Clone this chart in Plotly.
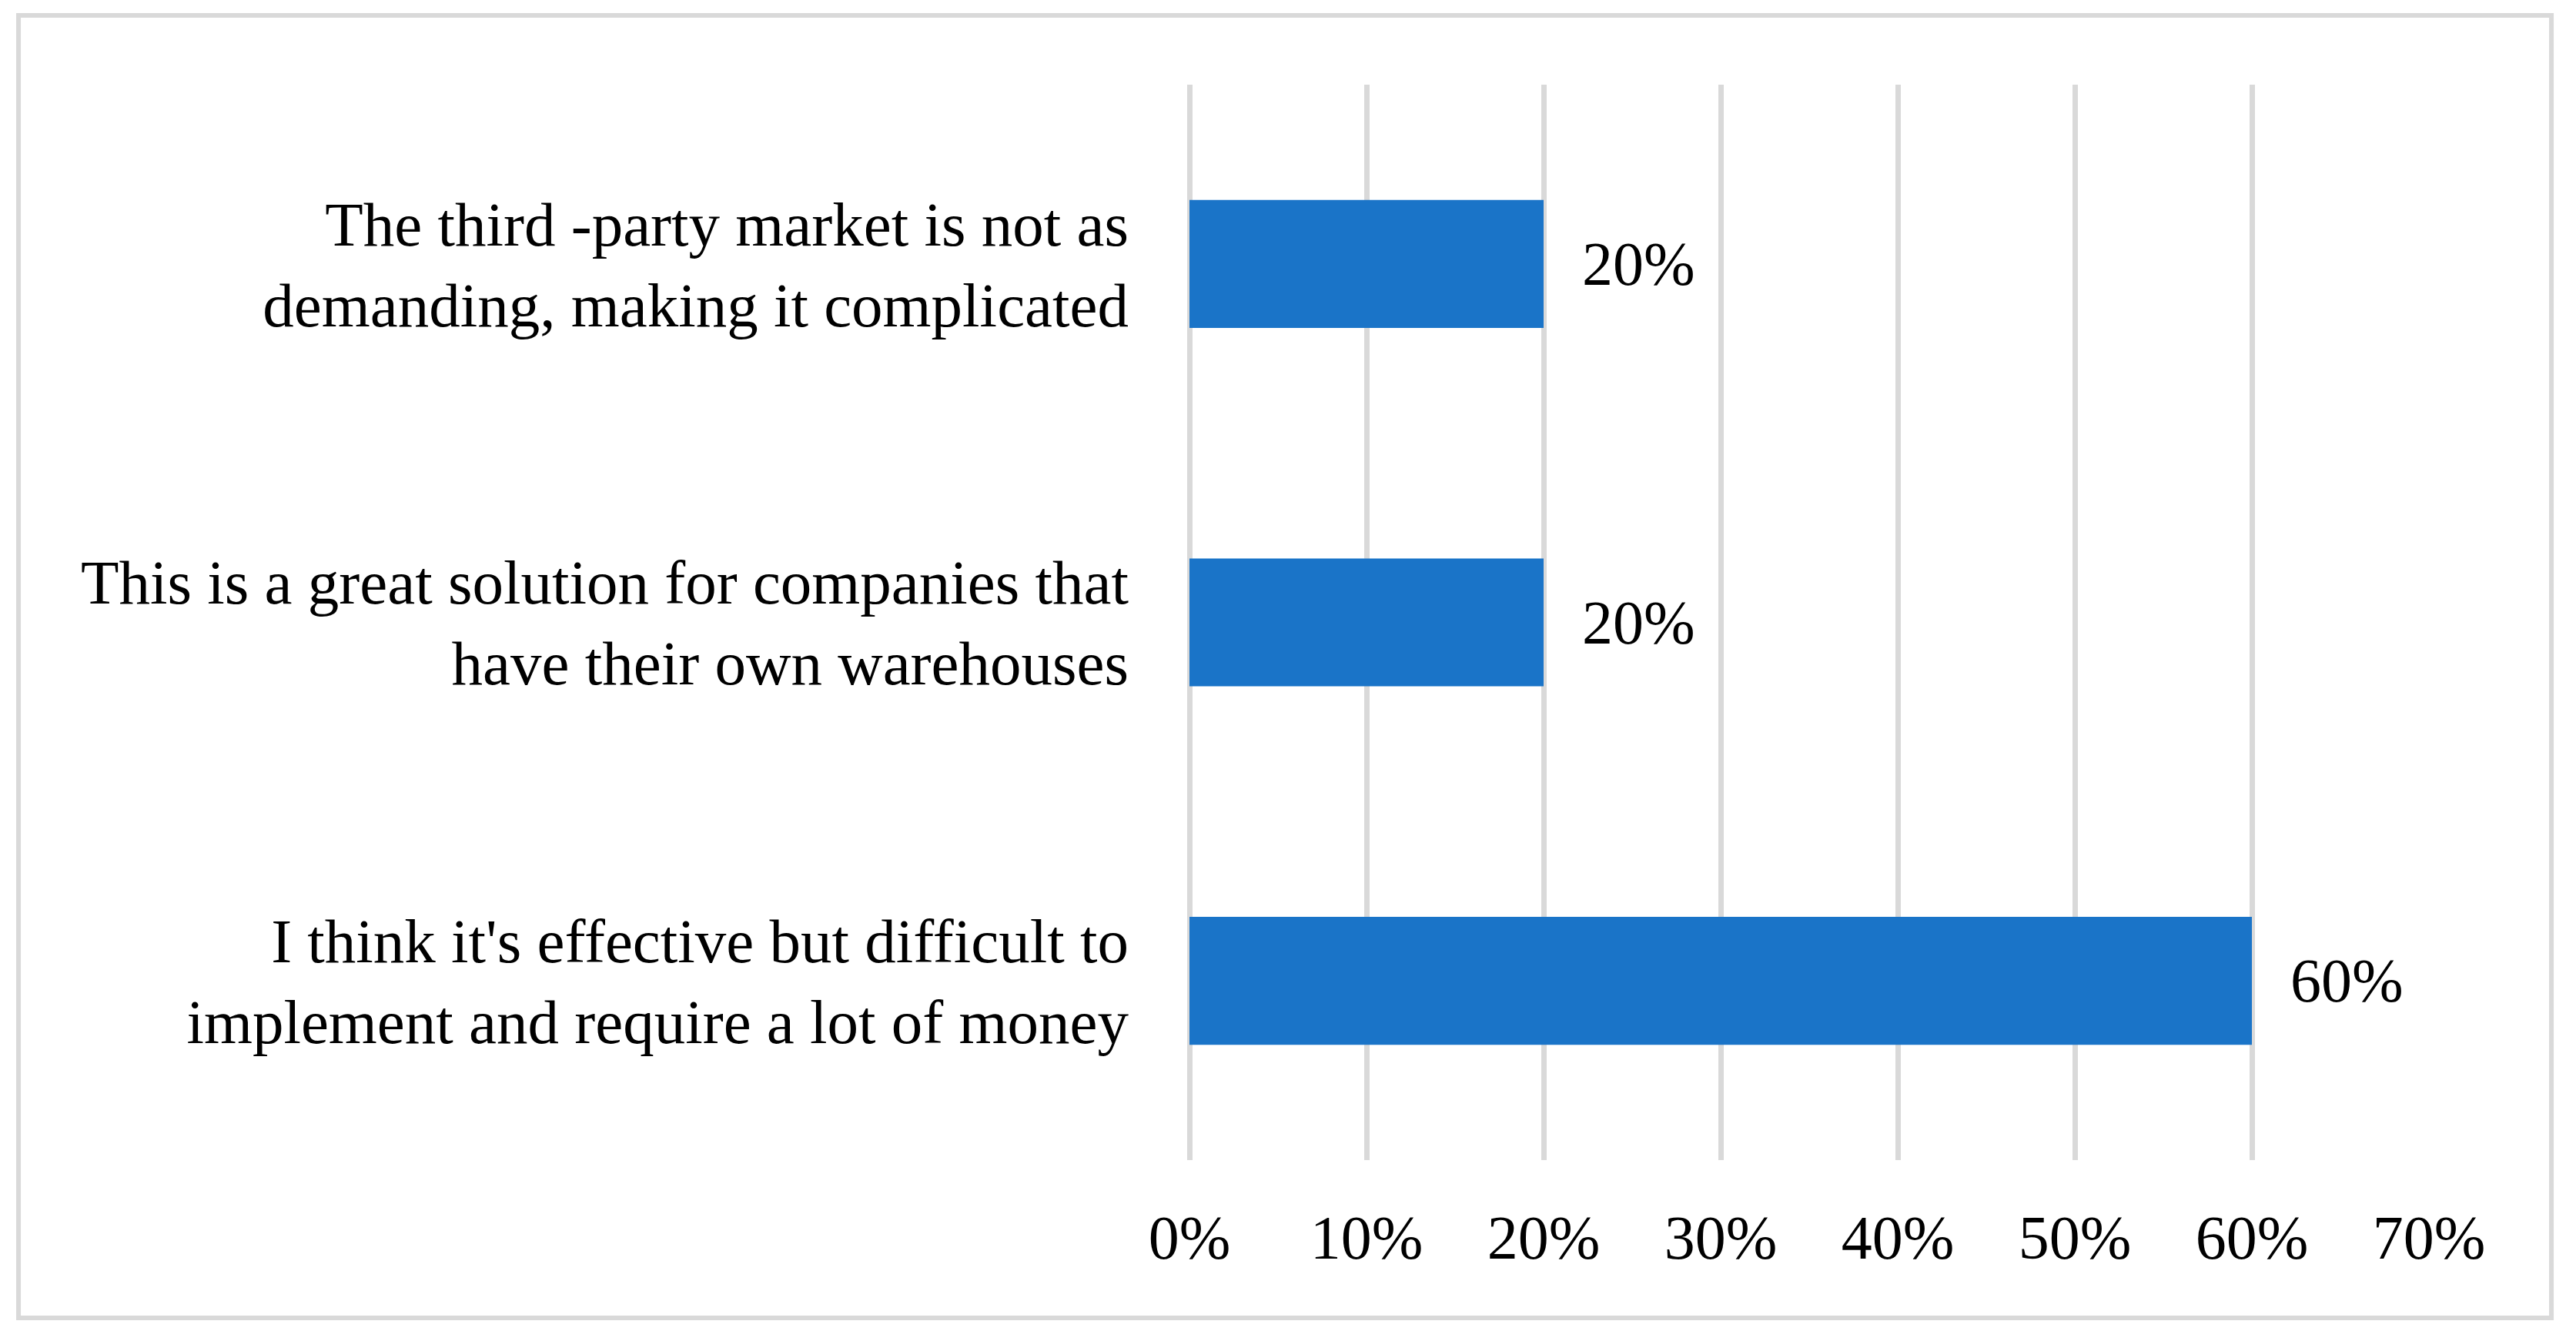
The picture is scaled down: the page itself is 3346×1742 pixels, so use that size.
import plotly.graph_objects as go

# answers, listed top to bottom as in the chart
categories = [
    "The third -party market is not as<br>demanding, making it complicated",
    "This is a great solution for companies that<br>have their own warehouses",
    "I think it's effective but difficult to<br>implement and require a lot of money",
]
shares = [0.20, 0.20, 0.60]
share_labels = ["20%", "20%", "60%"]

tick_vals = [0.0, 0.1, 0.2, 0.3, 0.4, 0.5, 0.6, 0.7]
tick_text = ["0%", "10%", "20%", "30%", "40%", "50%", "60%", "70%"]

FONT = "Palatino Linotype, Book Antiqua, Palatino, Liberation Serif, serif"
GRID = "#d9d9d9"


def main():
    fig = go.Figure()

    fig.add_trace(go.Bar(
        x=shares,
        y=categories,
        orientation="h",
        marker=dict(color="#1a74c8", line=dict(width=0)),
        hoverinfo="skip",
    ))

    # value labels to the right of each bar
    for cat, val, lab in zip(categories, shares, share_labels):
        fig.add_annotation(
            x=val, y=cat, text=lab, showarrow=False,
            xanchor="left", yanchor="middle", xshift=48,
            font=dict(family=FONT, size=80, color="black"),
        )

    # light grey frame round the whole chart
    fig.add_shape(
        type="rect", xref="paper", yref="paper",
        x0=-0.9447, x1=1.0988, y0=-0.1467, y1=1.0644,
        line=dict(color=GRID, width=6), fillcolor="rgba(0,0,0,0)",
        layer="below",
    )

    # page body has an 8px margin, so the figure is 8px smaller each way
    fig.update_layout(
        width=3338,
        height=1734,
        margin=dict(l=1537, r=191, t=102, b=235),
        paper_bgcolor="white",
        plot_bgcolor="white",
        bargap=0.643,
        showlegend=False,
        font=dict(family=FONT, size=81, color="black"),
    )

    fig.update_xaxes(
        range=[0, 0.7],
        tickvals=tick_vals,
        ticktext=tick_text,
        showgrid=True,
        gridcolor=GRID,
        gridwidth=7,
        zeroline=True,
        zerolinecolor=GRID,
        zerolinewidth=7,
        showline=False,
        ticks="",
        ticklabelstandoff=47,
        tickfont=dict(family=FONT, size=80, color="black"),
    )
    fig.update_yaxes(
        autorange="reversed",
        showgrid=False,
        zeroline=False,
        showline=False,
        ticks="",
        ticklabelstandoff=78,
        tickfont=dict(family=FONT, size=81, color="black"),
    )

    fig.write_html("out.html")


if __name__ == "__main__":
    main()
